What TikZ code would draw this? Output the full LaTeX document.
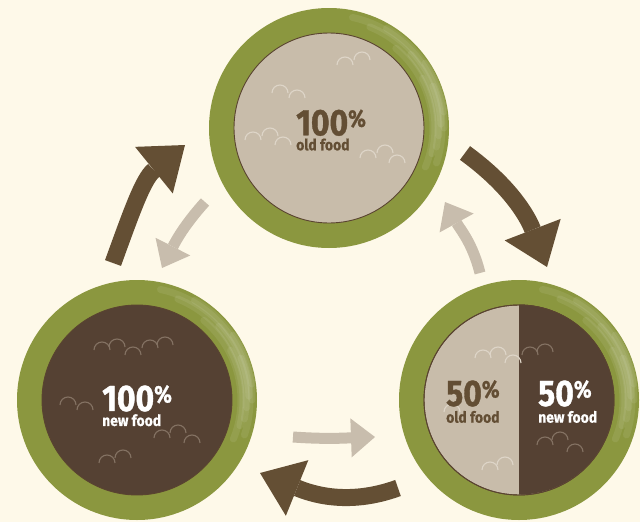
\documentclass[tikz,border=0pt]{standalone}
\usepackage{fontspec}
\newfontfamily\pctfont[FakeStretch=0.86, BoldFeatures={FakeBold=1}]{Fira Sans}
\newfontfamily\subfont[FakeStretch=0.9, BoldFeatures={FakeBold=0.6}]{Fira Sans}
\usetikzlibrary{arrows.meta, positioning}

\definecolor{cream}{RGB}{254,249,233}
\definecolor{olive}{RGB}{139,151,63}
\definecolor{oldfood}{RGB}{200,188,170}
\definecolor{newfood}{RGB}{85,65,51}
\definecolor{rim}{RGB}{90,68,48}
\definecolor{darkarrow}{RGB}{100,79,52}
\definecolor{lightarrow}{RGB}{200,189,173}
\definecolor{oldtext}{RGB}{99,78,52}
\definecolor{bumpold}{RGB}{222,213,200}
\definecolor{bumpnew}{RGB}{132,114,99}

\newcommand{\pcsign}{\raisebox{8.5pt}{\fontsize{24}{24}\selectfont\%}}
\newcommand{\bignum}[1]{{\pctfont\bfseries\fontsize{37}{15}\selectfont #1\pcsign}}

\begin{document}
\begin{tikzpicture}[
x=1pt, y=1pt,
ring/.style={circle, fill=olive, minimum size=240pt, inner sep=0pt},
bowl/.style={circle, minimum size=190pt, inner sep=0pt, draw=rim, line width=0.9pt},
share/.style={font=\subfont\bfseries\fontsize{15.5}{15}\selectfont, inner sep=0pt,
  align=left, anchor=north west},
bigarrow/.style={draw=darkarrow, line width=17pt,
  -{Triangle[length=40pt, width=60pt, line width=0pt]}},
smallarrow/.style={draw=lightarrow, line width=11pt,
  -{Triangle[length=24pt, width=39pt, line width=0pt]}},
bump/.style={line width=1.1pt},
gloss/.style={white, line width=7pt, opacity=0.08, line cap=round}
]

\fill[cream] (0,0) rectangle (640,-522);
\useasboundingbox (0,0) rectangle (640,-522);

% ------------------------
% Bowls
% ------------------------
\node[ring] (oldring) at (329,-128) {};
\node[bowl, fill=oldfood] (oldbowl) at (oldring) {};

\node[ring] (newring) at (137,-400) {};
\node[bowl, fill=newfood] (newbowl) at (newring) {};

\node[ring] (mixring) at (519,-400) {};
\node[bowl, fill=oldfood] (mixbowl) at (mixring) {};
\fill[newfood] (mixbowl.north) arc[start angle=90, end angle=-90, radius=95] -- cycle;
\draw[rim, line width=0.9pt] (mixbowl) circle[radius=95];

% gloss on the rings
\foreach \ring in {oldring,newring,mixring}{
  \foreach \r/\a/\b in {113/78/-18, 109/68/-10, 115/60/0, 104/50/-22, 110/42/-4,
    116/34/8, 106/28/-14, 112/22/2}
    \draw[gloss] (\ring.center) ++(\a:\r) arc[start angle=\a, end angle=\b, radius=\r];
}

% little bumps
\foreach \x/\y in {345/65, 362/60, 280/93, 297/98, 253/140, 270/136, 283/145,
  368/158, 385/153, 397/163, 483/358, 498/355, 513/363, 490/470, 505/465, 452/412}
  \draw[bump, bumpold] (\x,-\y) ++(8,0) arc[start angle=0, end angle=180, radius=8];
\foreach \x/\y in {102/350, 117/347, 133/355, 150/348, 165/345, 68/405, 85/410,
  162/438, 178/433, 192/443, 107/463, 123/458, 530/355, 545/352,
  545/445, 560/440, 575/452}
  \draw[bump, bumpnew] (\x,-\y) ++(8,0) arc[start angle=0, end angle=180, radius=8];

% ------------------------
% Labels
% ------------------------
\node[share, text=oldtext] (oldlabel) at (296,-109.3) {\bignum{100}\\ old food};
\node[share, text=white] (newlabel) at (102,-385) {\bignum{100}\\ new food};
\node[share, text=oldtext] (halfold) at (446,-380) {\bignum{50}\\[1.7pt] old food};
\node[share, text=white] (halfnew) at (538,-380) {\bignum{50}\\[1.7pt] new food};

% ------------------------
% Arrows
% ------------------------
\coordinate (d1s) at (113,-263);
\coordinate (d1e) at (185,-145);
\coordinate (d2s) at (465,-153);
\coordinate (d2e) at (547,-267);
\coordinate (d3s) at (398,-488);
\coordinate (d3e) at (260,-473);

\coordinate (l1s) at (205,-202);
\coordinate (l1e) at (162,-268);
\coordinate (l2s) at (480,-273);
\coordinate (l2e) at (445,-202);
\coordinate (l3s) at (293,-437);
\coordinate (l3e) at (375,-437);

\draw[bigarrow] (d1s) to[out=70, in=219] (d1e);
\draw[bigarrow] (d2s) to[out=-36, in=111] (d2e);
\draw[bigarrow] (d3s) to[out=200, in=-22] (d3e);

\draw[smallarrow] (l1s) to[out=228, in=63] (l1e);
\draw[smallarrow] (l2s) to[out=104, in=299] (l2e);
\draw[smallarrow] (l3s) to[out=-4, in=182] (l3e);

\end{tikzpicture}
\end{document}
